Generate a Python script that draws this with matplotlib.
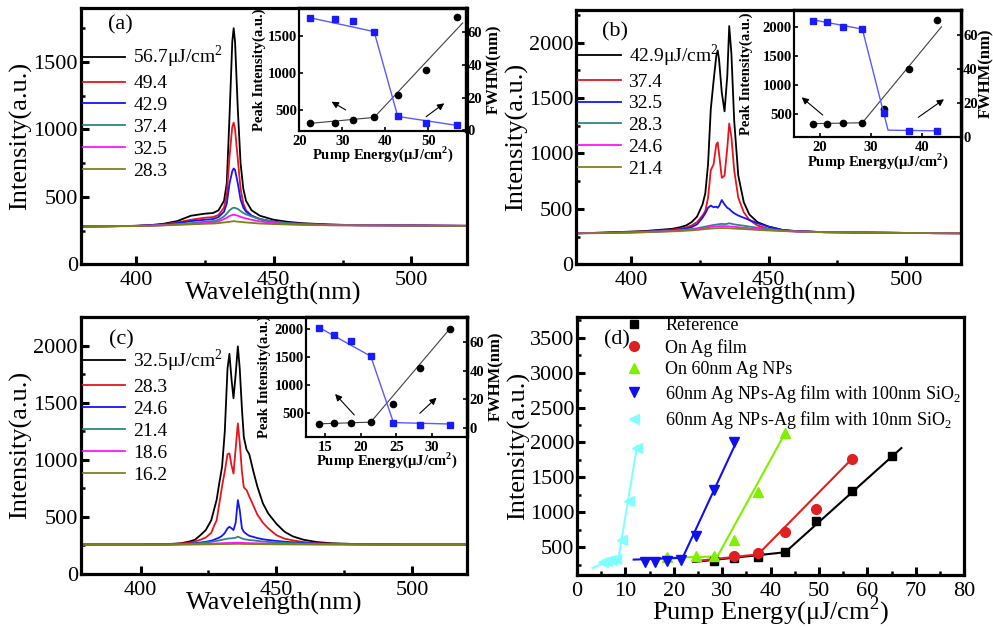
import matplotlib
matplotlib.use('Agg')
import matplotlib.pyplot as plt
from matplotlib.ticker import MultipleLocator

plt.rcParams['font.family'] = ['Liberation Serif', 'DejaVu Serif']
plt.rcParams['mathtext.fontset'] = 'custom'
plt.rcParams['mathtext.rm'] = 'Liberation Serif'
plt.rcParams['mathtext.bf'] = 'Liberation Serif:bold'

# ---------------- spectra (a) ----------------
wl_a = [380, 390, 400, 405, 410, 415, 420, 425, 428, 430, 432, 433, 434, 435, 435.5, 436, 437, 438, 439, 440,
        442, 445, 450, 455, 460, 470, 480, 490, 500, 510, 520]
a_567 = [280, 282, 285, 290, 300, 320, 360, 375, 380, 400, 470, 600, 1100, 1650, 1750, 1650, 1150, 750, 560, 470,
         400, 360, 330, 315, 305, 295, 290, 290, 288, 286, 285]
a_494 = [280, 282, 285, 288, 295, 310, 330, 345, 350, 365, 420, 520, 800, 1020, 1050, 1000, 780, 560, 450, 400,
         360, 335, 315, 305, 300, 293, 290, 289, 288, 286, 285]
a_429 = [280, 282, 285, 288, 295, 305, 320, 330, 335, 350, 390, 450, 600, 690, 710, 700, 600, 480, 420, 390,
         360, 335, 315, 305, 300, 293, 290, 289, 288, 286, 285]
a_374 = [280, 282, 284, 286, 290, 298, 305, 315, 320, 330, 355, 375, 400, 415, 420, 418, 410, 395, 380, 370,
         355, 335, 315, 305, 298, 292, 290, 289, 288, 286, 285]
a_325 = [280, 282, 284, 286, 290, 295, 300, 305, 310, 318, 335, 345, 358, 365, 368, 365, 360, 352, 345, 340,
         330, 318, 305, 298, 295, 290, 288, 288, 287, 286, 285]
a_283 = [280, 281, 283, 285, 288, 292, 296, 300, 302, 305, 310, 312, 315, 318, 320, 318, 316, 314, 312, 310,
         307, 302, 298, 295, 292, 289, 288, 287, 286, 285, 284]
labels_a = ['56.7μJ/cm$^2$', '49.4', '42.9', '37.4', '32.5', '28.3']

# ---------------- spectra (b) ----------------
wl_b = [380, 390, 400, 405, 410, 415, 418, 420, 422, 424, 426, 427, 428, 429, 430, 431, 431.5, 432, 433, 434,
        435, 435.7, 436.5, 437.5, 439, 441, 443, 446, 450, 455, 460, 470, 480, 490, 500, 510, 520]
b_429 = [280, 285, 295, 300, 310, 320, 335, 350, 380, 430, 540, 640, 900, 1400, 1650, 1880, 1930, 1850, 1550, 1380,
         1700, 2150, 1900, 1300, 800, 560, 450, 380, 340, 310, 300, 290, 288, 285, 283, 281, 280]
b_374 = [280, 285, 292, 296, 303, 312, 322, 332, 350, 380, 440, 480, 600, 850, 900, 1080, 1100, 1000, 780, 800,
         1050, 1270, 1150, 850, 600, 470, 400, 350, 320, 305, 298, 290, 288, 285, 283, 281, 280]
b_325 = [280, 285, 290, 294, 300, 308, 315, 322, 335, 360, 420, 460, 510, 530, 515, 520, 510, 525, 580, 540,
         510, 500, 480, 460, 440, 420, 400, 370, 340, 310, 298, 290, 288, 285, 283, 281, 280]
b_283 = [280, 283, 288, 292, 298, 303, 308, 312, 318, 325, 335, 340, 345, 350, 355, 358, 360, 362, 365, 362,
         365, 370, 366, 360, 355, 348, 340, 330, 318, 305, 298, 290, 288, 285, 283, 281, 280]
b_246 = [280, 283, 287, 290, 295, 300, 305, 308, 312, 318, 325, 330, 335, 338, 340, 342, 343, 344, 345, 344,
         343, 342, 340, 338, 335, 330, 325, 318, 310, 302, 296, 290, 288, 285, 283, 281, 280]
b_214 = [278, 282, 286, 289, 293, 297, 300, 303, 306, 310, 315, 318, 320, 322, 324, 325, 326, 326, 327, 326,
         326, 325, 324, 322, 320, 318, 315, 310, 305, 300, 295, 289, 287, 285, 283, 281, 280]
labels_b = ['42.9μJ/cm$^2$', '37.4', '32.5', '28.3', '24.6', '21.4']

# ---------------- spectra (c) ----------------
wl_c = [378, 390, 400, 410, 415, 418, 420, 422, 424, 426, 427, 428, 429, 430, 431, 432, 432.7, 433.5, 434.2, 435,
        435.8, 436.5, 437.3, 438, 439, 440, 441.5, 443, 445, 447, 450, 453, 456, 460, 465, 470, 480, 490, 500, 510, 520]
c_325 = [258, 258, 258, 262, 270, 285, 300, 340, 385, 470, 560, 650, 800, 940, 1250, 1800, 1930, 1700, 1540, 1750,
         1995, 1800, 1450, 1200, 1090, 1050, 900, 765, 620, 530, 440, 370, 330, 300, 280, 270, 262, 260, 258, 258, 258]
c_283 = [258, 258, 258, 260, 266, 275, 285, 300, 320, 360, 420, 470, 620, 770, 900, 1050, 1057, 950, 880, 1100,
         1320, 1150, 900, 760, 736, 680, 600, 520, 450, 400, 340, 310, 295, 280, 270, 265, 260, 259, 258, 258, 258]
c_246 = [258, 258, 258, 259, 262, 266, 270, 276, 282, 292, 300, 310, 320, 335, 360, 400, 414, 400, 385, 450,
         648, 560, 400, 370, 350, 335, 325, 315, 305, 298, 290, 283, 278, 272, 267, 264, 260, 259, 258, 258, 258]
c_214 = [258, 258, 258, 259, 261, 263, 266, 270, 275, 282, 286, 290, 295, 300, 305, 310, 312, 313, 315, 318,
         327, 320, 312, 306, 302, 298, 295, 290, 285, 281, 277, 273, 270, 267, 264, 262, 260, 259, 258, 258, 258]
c_186 = [258, 258, 258, 259, 260, 261, 262, 263, 264, 266, 267, 268, 269, 270, 271, 272, 272, 273, 273, 274,
         275, 274, 273, 272, 272, 271, 270, 269, 268, 266, 265, 264, 263, 262, 261, 260, 259, 259, 258, 258, 258]
c_162 = [256, 256, 256, 257, 258, 258, 259, 259, 260, 260, 261, 261, 262, 262, 263, 263, 263, 264, 264, 264,
         265, 264, 264, 263, 263, 263, 262, 262, 261, 261, 260, 260, 259, 259, 258, 258, 257, 257, 257, 257, 257]
labels_c = ['32.5μJ/cm$^2$', '28.3', '24.6', '21.4', '18.6', '16.2']

spec_colors = ['#000000', '#e8141c', '#1414ff', '#2e8585', '#ff14ff', '#80801a']

# ---------------- insets ----------------
ins_a_x = [22.5, 28.3, 32.5, 37.4, 42.9, 49.4, 56.7]
ins_a_peak = [320, 320, 365, 400, 705, 1040, 1750]
ins_a_fwhm = [69.1, 68.1, 67.1, 60.2, 8.5, 4.5, 3.0]
ins_a_pfit_x, ins_a_pfit_y = [22.5, 37.4, 58.0], [320, 400, 1670]
ins_a_ffit_x, ins_a_ffit_y = [22.5, 37.4, 42.9, 56.7], [69.0, 60.5, 8.5, 3.0]

ins_b_x = [18.6, 21.4, 24.6, 28.3, 32.5, 37.4, 42.9]
ins_b_peak = [328, 330, 340, 350, 586, 1268, 2115]
ins_b_fwhm = [68.4, 67.8, 64.8, 63.6, 14.4, 3.7, 3.7]
ins_b_pfit_x, ins_b_pfit_y = [18.6, 28.3, 43.7], [335, 350, 2000]
ins_b_ffit_x, ins_b_ffit_y = [18.6, 28.3, 33.3, 42.9], [69.0, 63.5, 4.2, 3.8]

ins_c_x = [14.1, 16.2, 18.6, 21.4, 24.6, 28.3, 32.5]
ins_c_peak = [297, 309, 320, 327, 651, 1309, 2005]
ins_c_fwhm = [69.9, 64.8, 60.6, 50.4, 3.9, 2.5, 2.5]
ins_c_pfit_x, ins_c_pfit_y = [14.1, 21.4, 32.5], [300, 330, 2005]
ins_c_ffit_x, ins_c_ffit_y = [14.1, 21.4, 24.6, 32.5], [70.0, 50.0, 4.0, 3.0]

# ---------------- threshold plot (d) ----------------
ref_x = [28.3, 32.5, 37.4, 42.9, 49.4, 56.7, 65.0]
ref_y = [310, 350, 360, 430, 870, 1310, 1800]
agf_x = [32.5, 37.4, 42.9, 49.4, 56.7]
agf_y = [380, 420, 720, 1050, 1760]
nps_x = [18.6, 24.6, 28.3, 32.5, 37.4, 42.9]
nps_y = [360, 380, 380, 610, 1290, 2140]
s100_x = [14.1, 16.2, 18.6, 21.4, 24.6, 28.3, 32.5]
s100_y = [290, 290, 310, 325, 660, 1320, 2010]
s10_x = [5.3, 6.1, 7.0, 8.1, 9.3, 10.7, 12.3]
s10_y = [285, 300, 315, 340, 610, 1170, 1920]

ref_fit_x, ref_fit_y = [24.0, 43.0, 67.0], [290, 430, 1920]
agf_fit_x, agf_fit_y = [24.0, 37.4, 56.7], [300, 400, 1760]
nps_fit_x, nps_fit_y = [17.9, 29.0, 43.2], [350, 370, 2160]
s100_fit_x, s100_fit_y = [11.7, 21.8, 33.0], [325, 350, 2020]
s10_fit_x, s10_fit_y = [3.2, 8.6, 12.4], [205, 360, 1950]

labels_d = ['Reference', 'On Ag film', 'On 60nm Ag NPs',
            '60nm Ag NPs-Ag film with 100nm SiO$_2$', '60nm Ag NPs-Ag film with 10nm SiO$_2$']


def style_main(ax):
    for s in ax.spines.values():
        s.set_linewidth(2.3)
    ax.tick_params(which='major', direction='in', length=6, width=2.2, labelsize=16, pad=2)
    ax.tick_params(which='minor', direction='in', length=3, width=1.8)
    ax.tick_params(axis='x', which='major', pad=5)


def draw_spectra(rect, wl, curves, labels, ylim, xlim, yticks, tag, tag_xy, leg_y):
    ax = fig.add_axes(rect)
    for y, c, lab in zip(curves, spec_colors, labels):
        ax.plot(wl, y, color=c, lw=1.3, label=lab)
    ax.set_xlim(*xlim)
    ax.set_ylim(*ylim)
    ax.set_xticks([400, 450, 500])
    ax.set_yticks(yticks)
    ax.xaxis.set_minor_locator(MultipleLocator(25))
    ax.yaxis.set_minor_locator(MultipleLocator(250))
    style_main(ax)
    ax.set_xlabel('Wavelength(nm)', fontsize=19)
    ax.set_ylabel('Intensity(a.u.)', fontsize=19)
    ax.xaxis.set_label_coords(0.5, -0.07)
    ax.yaxis.set_label_coords(-0.125, 0.5)
    ax.text(tag_xy[0], tag_xy[1], tag, transform=ax.transAxes, fontsize=16, ha='center', va='center')
    ax.legend(loc='upper left', bbox_to_anchor=(0.005, leg_y), frameon=False, fontsize=14,
              handlelength=2.2, handletextpad=0.4, labelspacing=0.22, borderpad=0, borderaxespad=0)
    return ax


def draw_inset(rect, x, peak, fwhm, pfx, pfy, ffx, ffy, xlim, yl, yr, xticks, yticks, arrows,
               lab_l, lab_r):
    ax = fig.add_axes(rect)
    ax.plot(pfx, pfy, color='#404040', lw=0.8)
    ax.plot(x, peak, 'o', color='black', ms=4.5)
    ax.set_xlim(*xlim)
    ax.set_ylim(*yl)
    ax.set_xticks(xticks)
    ax.set_yticks(yticks)
    ax2 = ax.twinx()
    ax2.plot(ffx, ffy, color='#5a5aff', lw=1.0)
    ax2.plot(x, fwhm, 's', color='#1a1aff', ms=5)
    ax2.set_ylim(*yr)
    ax2.set_yticks([0, 20, 40, 60])
    for a in (ax, ax2):
        for s in a.spines.values():
            s.set_linewidth(1.5)
        a.spines['right'].set_linewidth(2.3)
        a.spines['top'].set_linewidth(2.3)
        a.tick_params(direction='in', length=3, width=1.2, labelsize=10.5, pad=1.5)
        for t in a.get_xticklabels() + a.get_yticklabels():
            t.set_fontweight('bold')
    ax.tick_params(axis='x', pad=3)
    ax.set_xlabel('Pump Energy(μJ/cm$^\\mathbf{2}$)', fontsize=10.5, fontweight='bold')
    ax.set_ylabel('Peak Intensity(a.u.)', fontsize=10.5, fontweight='bold')
    ax2.set_ylabel('FWHM(nm)', fontsize=12, fontweight='bold')
    ax.xaxis.set_label_coords(0.5, -0.11)
    ax.yaxis.set_label_coords(lab_l, 0.5)
    ax2.yaxis.set_label_coords(lab_r, 0.5)
    for tail, head in arrows:
        ax.annotate('', xy=head, xytext=tail, xycoords='axes fraction', textcoords='axes fraction',
                    arrowprops=dict(arrowstyle='-|>', color='black', lw=0.8, mutation_scale=10,
                                    shrinkA=0, shrinkB=0))
    return ax


fig = plt.figure(figsize=(9.93, 6.27), dpi=100)

draw_spectra([0.0813, 0.5785, 0.3885, 0.4088], wl_a, [a_567, a_494, a_429, a_374, a_325, a_283], labels_a,
             (0, 1900), (380, 520), [0, 500, 1000, 1500], '(a)', (0.102, 0.934), 0.86)
draw_spectra([0.5801, 0.5785, 0.3877, 0.4056], wl_b, [b_429, b_374, b_325, b_283, b_246, b_214], labels_b,
             (0, 2295), (380, 520), [0, 500, 1000, 1500, 2000], '(b)', (0.101, 0.915), 0.874)
draw_spectra([0.0813, 0.0845, 0.3887, 0.4104], wl_c, [c_325, c_283, c_246, c_214, c_186, c_162], labels_c,
             (0, 2255), (378, 520), [0, 500, 1000, 1500, 2000], '(c)', (0.106, 0.909), 0.88)

draw_inset([0.3014, 0.7911, 0.1676, 0.1962], ins_a_x, ins_a_peak, ins_a_fwhm,
           ins_a_pfit_x, ins_a_pfit_y, ins_a_ffit_x, ins_a_ffit_y,
           (20.25, 58.7), (218, 1871), (-0.4, 75), [20, 30, 40, 50], [500, 1000, 1500],
           [((0.279, 0.171), (0.194, 0.238)), ((0.762, 0.116), (0.871, 0.225))], -0.2, 1.12)
draw_inset([0.7996, 0.7810, 0.1682, 0.2030], ins_b_x, ins_b_peak, ins_b_fwhm,
           ins_b_pfit_x, ins_b_pfit_y, ins_b_ffit_x, ins_b_ffit_y,
           (15, 47.5), (100, 2287), (0, 74.7), [20, 30, 40], [500, 1000, 1500, 2000],
           [((0.172, 0.175), (0.046, 0.314)), ((0.744, 0.157), (0.898, 0.299))], -0.245, 1.10)
draw_inset([0.3082, 0.3035, 0.1625, 0.1914], ins_c_x, ins_c_peak, ins_c_fwhm,
           ins_c_pfit_x, ins_c_pfit_y, ins_c_ffit_x, ins_c_ffit_y,
           (12.3, 35), (68, 2227), (-5.8, 77.4), [15, 20, 25, 30], [500, 1000, 1500, 2000],
           [((0.299, 0.181), (0.180, 0.356)), ((0.705, 0.195), (0.809, 0.325))], -0.218, 1.13)

# panel (d)
axd = fig.add_axes([0.5811, 0.0824, 0.3900, 0.4115])
axd.plot(ref_fit_x, ref_fit_y, color='black', lw=1.5)
axd.plot(agf_fit_x, agf_fit_y, color='#e02020', lw=1.5)
axd.plot(nps_fit_x, nps_fit_y, color='#80f000', lw=1.5)
axd.plot(s100_fit_x, s100_fit_y, color='#1010ee', lw=1.5)
axd.plot(s10_fit_x, s10_fit_y, color='#80ffff', lw=1.5)
axd.plot(ref_x, ref_y, 's', color='black', ms=5.5, ls='none', label=labels_d[0])
axd.plot(agf_x, agf_y, 'o', color='#e02020', ms=7, ls='none', label=labels_d[1])
axd.plot(nps_x, nps_y, '^', color='#80f000', ms=7, ls='none', label=labels_d[2])
axd.plot(s100_x, s100_y, 'v', color='#1010ee', ms=7, ls='none', label=labels_d[3])
axd.plot(s10_x, s10_y, '<', color='#80ffff', ms=7, ls='none', label=labels_d[4])
axd.set_xlim(0, 80)
axd.set_ylim(100, 3790)
axd.set_xticks(range(0, 81, 10))
axd.set_yticks(range(500, 3501, 500))
axd.xaxis.set_minor_locator(MultipleLocator(5))
axd.yaxis.set_minor_locator(MultipleLocator(250))
style_main(axd)
axd.set_xlabel('Pump Energy(μJ/cm$^2$)', fontsize=19)
axd.set_ylabel('Intensity(a.u.)', fontsize=19)
axd.xaxis.set_label_coords(0.5, -0.075)
axd.yaxis.set_label_coords(-0.122, 0.5)
axd.text(0.1025, 0.912, '(d)', transform=axd.transAxes, fontsize=16, ha='center', va='center')
axd.legend(loc='upper left', bbox_to_anchor=(0.125, 1.0), frameon=False, fontsize=13,
           handlelength=1.0, handletextpad=1.2, labelspacing=0.25, borderpad=0, borderaxespad=0)

fig.savefig('out.png', dpi=100)
